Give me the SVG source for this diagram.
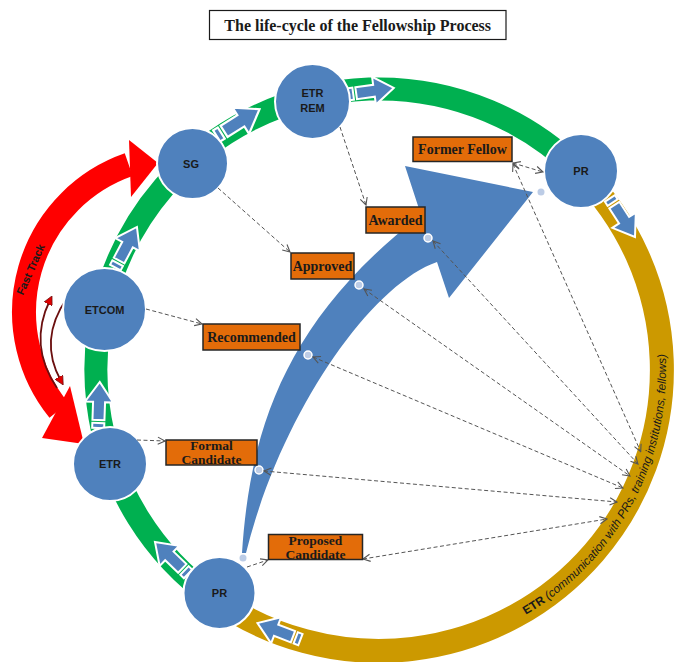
<svg xmlns="http://www.w3.org/2000/svg" width="674" height="662" viewBox="0 0 674 662">
<style>
.node{fill:#4F81BD;stroke:#fff;stroke-width:2}
.nt{font-family:"Liberation Sans",Arial,sans-serif;font-weight:bold;font-size:11px;fill:#1a1a1a;text-anchor:middle}
.lab{fill:#E36C09;stroke:#262626;stroke-width:1.5}
.lt{font-family:"Liberation Serif","Times New Roman",serif;font-weight:bold;font-size:14px;fill:#1a1a1a;text-anchor:middle}
.lt2{font-family:"Liberation Serif","Times New Roman",serif;font-weight:bold;font-size:13.5px;fill:#1a1a1a;text-anchor:middle}
.con{fill:none;stroke:#555;stroke-width:1;stroke-dasharray:4 2.5}
.sa{fill:#4F81BD;stroke:#fff;stroke-width:2;stroke-linejoin:miter}
.dot{fill:#BCCCE6;stroke:#fff;stroke-width:1.5}
</style>
<defs>
<marker id="ah" viewBox="0 0 10 10" refX="9" refY="5" markerWidth="9" markerHeight="9" markerUnits="userSpaceOnUse" orient="auto-start-reverse">
<path d="M1,1 L9,5 L1,9" fill="none" stroke="#555" stroke-width="1.2"/>
</marker>
<marker id="rh" viewBox="0 0 10 10" refX="5" refY="5" markerWidth="9" markerHeight="9" markerUnits="userSpaceOnUse" orient="auto">
<path d="M0,0 L10,5 L0,10 Z" fill="#E00000" stroke="#6b0f0f" stroke-width="0.8"/>
</marker>
<g id="sa" class="sa">
<path d="M-24,-6 h5 v12 h-5 z"/>
<path d="M-16,-6 H2 V-14 L22,0 L2,14 V6 H-16 Z"/>
</g>
<path id="etrPath" d="M 513.7,621.6 A 287 285 0 0 0 648.7,272.5"/>
</defs>
<rect width="674" height="662" fill="#fff"/>

<g id="title">
<rect x="209.5" y="10.5" width="296.5" height="29" fill="#fff" stroke="#1a1a1a" stroke-width="1.2"/>
<text x="357.7" y="30.5" font-family="Liberation Serif,'Times New Roman',serif" font-weight="bold" font-size="16" fill="#1a1a1a" text-anchor="middle">The life-cycle of the Fellowship Process</text>
</g>

<g id="ring">
<path d="M 213.9,598.2 A 283 281 0 1 1 580.5,172.7" fill="none" stroke="#00B050" stroke-width="23"/>
<path d="M 580.5,172.7 A 283 281 0 0 1 213.9,598.2" fill="none" stroke="#CC9900" stroke-width="24"/>
<text font-family="Liberation Sans,Arial,sans-serif" font-size="11.8" fill="#1a1a1a"><textPath href="#etrPath" startOffset="14"><tspan font-weight="bold">ETR</tspan><tspan font-style="italic"> (communication with PRs, training institutions, fellows)</tspan></textPath></text>
</g>

<g id="ring-arrows">
<use href="#sa" transform="translate(170.8,557.3) rotate(224)"/>
<use href="#sa" transform="translate(99,404) rotate(-88)"/>
<use href="#sa" transform="translate(126.6,246.4) rotate(-62)"/>
<use href="#sa" transform="translate(239,122) rotate(-32) scale(1.1)"/>
<use href="#sa" transform="translate(372,91) rotate(-8)"/>
<use href="#sa" transform="translate(623,218.5) rotate(57)"/>
<use href="#sa" transform="translate(278,631) rotate(201)"/>
</g>

<g id="fast-track">
<path d="M 58.8,410.2 A 156 156 0 0 1 128.7,164.7" fill="none" stroke="#FF0000" stroke-width="24"/>
<polygon points="129,140 158,163 131,197" fill="#FF0000"/>
<polygon points="70,386 84,444 42,438" fill="#FF0000"/>
<text transform="translate(34,271) rotate(-66)" font-family="Liberation Sans,Arial,sans-serif" font-weight="bold" font-size="11" fill="#1a1a1a" text-anchor="middle">Fast Track</text>
<path d="M 57,388 Q 28,345 50,300" fill="none" stroke="#6b0f0f" stroke-width="1.8" marker-end="url(#rh)"/>
<path d="M 67,298 Q 38,340 61,381" fill="none" stroke="#6b0f0f" stroke-width="1.8" marker-end="url(#rh)"/>
</g>

<g id="progress-arrow">
<path d="M 242,553 C 250,430 285,320 421,215 L 405,166 L 533,192 L 449,298 L 437,262 C 370,285 280,415 246,553 Z" fill="#4F81BD"/>
</g>

<g id="node-pr-bottom"><circle class="node" cx="219.5" cy="593" r="36"/><text class="nt" x="219.5" y="597">PR</text></g>
<g id="node-etr"><circle class="node" cx="110" cy="464" r="37"/><text class="nt" x="110" y="468">ETR</text></g>
<g id="node-etcom"><circle class="node" cx="104.5" cy="309.5" r="41.5"/><text class="nt" x="104.5" y="313.5">ETCOM</text></g>
<g id="node-sg"><circle class="node" cx="192.5" cy="163.5" r="35.5"/><text class="nt" x="191" y="167.5">SG</text></g>
<g id="node-etr-rem"><circle class="node" cx="312.5" cy="101.5" r="37.5"/><text class="nt" x="312.5" y="97">ETR</text><text class="nt" x="312.5" y="112">REM</text></g>
<g id="node-pr-top"><circle class="node" cx="581" cy="171" r="37"/><text class="nt" x="581" y="175">PR</text></g>

<g id="dots">
<circle cx="243" cy="558" r="3.5" fill="#BCCCE6"/>
<circle cx="541" cy="192" r="3.5" fill="#BCCCE6"/>
<circle class="dot" cx="259" cy="470" r="4"/>
<circle class="dot" cx="308" cy="355" r="4"/>
<circle class="dot" cx="359" cy="285" r="4"/>
<circle class="dot" cx="428" cy="238" r="4"/>
</g>

<g id="connectors">
<line class="con" x1="247" y1="567" x2="268" y2="560" marker-end="url(#ah)"/>
<line class="con" x1="137" y1="440" x2="165" y2="441" marker-end="url(#ah)"/>
<line class="con" x1="146" y1="309" x2="202" y2="324" marker-end="url(#ah)"/>
<line class="con" x1="218" y1="188" x2="290" y2="252" marker-end="url(#ah)"/>
<line class="con" x1="340" y1="127" x2="366" y2="205" marker-end="url(#ah)"/>
<line class="con" x1="513" y1="163" x2="543" y2="172" marker-start="url(#ah)" marker-end="url(#ah)"/>
<line class="con" x1="513" y1="164" x2="640.7" y2="451.7" marker-start="url(#ah)" marker-end="url(#ah)"/>
<line class="con" x1="433" y1="241" x2="638" y2="464" marker-start="url(#ah)" marker-end="url(#ah)"/>
<line class="con" x1="364" y1="289" x2="630" y2="476" marker-start="url(#ah)" marker-end="url(#ah)"/>
<line class="con" x1="313" y1="357" x2="623" y2="488" marker-start="url(#ah)" marker-end="url(#ah)"/>
<line class="con" x1="264" y1="471" x2="617" y2="502" marker-start="url(#ah)" marker-end="url(#ah)"/>
<line class="con" x1="363" y1="559" x2="607" y2="519" marker-start="url(#ah)" marker-end="url(#ah)"/>
</g>

<g id="label-former-fellow"><rect class="lab" x="413" y="137" width="99" height="24.5"/><text class="lt" x="462.5" y="154">Former Fellow</text></g>
<g id="label-awarded"><rect class="lab" x="366" y="207" width="59" height="26"/><text class="lt" x="395.5" y="225">Awarded</text></g>
<g id="label-approved"><rect class="lab" x="291" y="253" width="63" height="26"/><text class="lt" x="322.5" y="271">Approved</text></g>
<g id="label-recommended"><rect class="lab" x="203" y="324" width="97" height="26"/><text class="lt" x="251.5" y="342">Recommended</text></g>
<g id="label-formal-candidate"><rect class="lab" x="166" y="440" width="91" height="25"/><text class="lt2" x="211.5" y="450">Formal</text><text class="lt2" x="211.5" y="463.5">Candidate</text></g>
<g id="label-proposed-candidate"><rect class="lab" x="268.5" y="534.5" width="94" height="25"/><text class="lt2" x="315.5" y="545">Proposed</text><text class="lt2" x="315.5" y="558.5">Candidate</text></g>
</svg>
